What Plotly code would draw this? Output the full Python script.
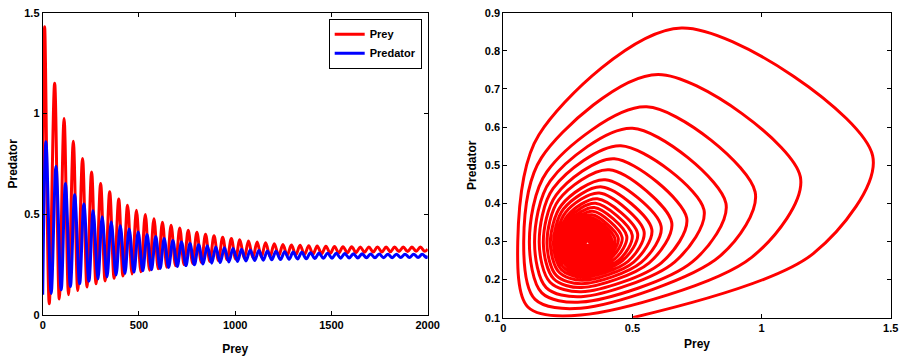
import numpy as np
import pandas as pd
import plotly.graph_objects as go

# ---- data (one entry per oscillation cycle) ----
t_start, prey_start, pred_start = 0, 0.5, 0.1
t_end, prey_end, pred_end = 2000, 0.327, 0.294

# prey peaks (time, prey value, predator value at that moment)
t_prey_max = [10, 62, 111, 159, 207, 254, 301, 348, 395, 441, 487, 533, 578, 622, 667, 712, 756, 801, 846, 890,
              935, 980, 1024, 1069, 1114, 1158, 1203, 1248, 1292, 1337, 1382, 1426, 1471, 1516, 1560, 1605, 1650,
              1694, 1739, 1784, 1828, 1873, 1918, 1962]
prey_max = [1.43, 1.15, 0.975, 0.862, 0.777, 0.71, 0.652, 0.611, 0.575, 0.545, 0.52, 0.499, 0.478, 0.46, 0.445,
            0.432, 0.42, 0.41, 0.401, 0.393, 0.386, 0.379, 0.373, 0.367, 0.362, 0.358, 0.354, 0.35, 0.347, 0.346,
            0.344, 0.342, 0.341, 0.34, 0.339, 0.339, 0.338, 0.338, 0.338, 0.337, 0.337, 0.337, 0.337, 0.337]
pred_at_prey_max = [0.525, 0.47, 0.43, 0.40, 0.383, 0.362, 0.35, 0.34, 0.332, 0.326, 0.321, 0.317, 0.314, 0.311,
                    0.309, 0.307, 0.305, 0.304, 0.303, 0.302, 0.301, 0.300, 0.299, 0.298, 0.298, 0.297, 0.297,
                    0.296, 0.296, 0.296, 0.295, 0.295, 0.295, 0.295, 0.294, 0.294, 0.294, 0.294, 0.294, 0.294,
                    0.294, 0.294, 0.294, 0.294]

# predator peaks
t_pred_max = [17, 69, 118, 166, 214, 262, 309, 356, 403, 449, 496, 542, 587, 631, 676, 721, 765, 810, 855, 899,
              944, 989, 1033, 1078, 1123, 1167, 1212, 1257, 1301, 1346, 1391, 1435, 1480, 1525, 1569, 1614, 1659,
              1703, 1748, 1793, 1837, 1882, 1927, 1971]
pred_max = [0.86, 0.738, 0.653, 0.597, 0.551, 0.517, 0.488, 0.462, 0.443, 0.427, 0.412, 0.40, 0.389, 0.379, 0.37,
            0.362, 0.355, 0.349, 0.343, 0.338, 0.334, 0.33, 0.326, 0.323, 0.32, 0.318, 0.316, 0.314, 0.312, 0.311,
            0.309, 0.308, 0.307, 0.306, 0.305, 0.304, 0.304, 0.303, 0.303, 0.302, 0.302, 0.302, 0.302, 0.301]
prey_at_pred_max = [0.69, 0.60, 0.555, 0.50, 0.455, 0.43, 0.41, 0.395, 0.382, 0.372, 0.364, 0.357, 0.352, 0.347,
                    0.343, 0.340, 0.338, 0.336, 0.334, 0.333, 0.332, 0.331, 0.330, 0.330, 0.329, 0.329, 0.329,
                    0.328, 0.328, 0.328, 0.328, 0.328, 0.328, 0.327, 0.327, 0.327, 0.327, 0.327, 0.327, 0.327,
                    0.327, 0.327, 0.327, 0.327]

# prey troughs
t_prey_min = [34, 86, 134, 182, 230, 277, 324, 371, 417, 464, 510, 555, 600, 645, 690, 734, 779, 824, 868, 913,
              958, 1002, 1047, 1092, 1136, 1181, 1226, 1270, 1315, 1360, 1404, 1449, 1494, 1538, 1583, 1628, 1672,
              1717, 1762, 1806, 1851, 1896, 1940, 1985]
prey_min = [0.056, 0.079, 0.101, 0.121, 0.139, 0.155, 0.169, 0.182, 0.194, 0.204, 0.214, 0.222, 0.23, 0.237, 0.244,
            0.25, 0.256, 0.261, 0.266, 0.27, 0.274, 0.278, 0.282, 0.285, 0.288, 0.291, 0.294, 0.296, 0.298, 0.30,
            0.302, 0.304, 0.306, 0.307, 0.309, 0.31, 0.311, 0.312, 0.313, 0.314, 0.315, 0.315, 0.316, 0.316]
pred_at_prey_min = [0.30, 0.30, 0.299, 0.298, 0.297, 0.296, 0.295, 0.295, 0.294, 0.294, 0.293, 0.293, 0.293,
                    0.292, 0.292, 0.292, 0.292, 0.292, 0.291, 0.291, 0.291, 0.291, 0.291, 0.291, 0.291, 0.291,
                    0.291, 0.291, 0.291, 0.291, 0.291, 0.291, 0.291, 0.291, 0.291, 0.291, 0.291, 0.291, 0.291,
                    0.291, 0.291, 0.291, 0.291, 0.291]

# predator troughs
t_pred_min = [44, 96, 144, 192, 240, 287, 334, 381, 427, 474, 520, 565, 610, 654, 699, 744, 788, 833, 878, 922,
              967, 1012, 1056, 1101, 1146, 1190, 1235, 1280, 1324, 1369, 1414, 1458, 1503, 1548, 1592, 1637, 1682,
              1726, 1771, 1816, 1860, 1905, 1950, 1994]
pred_min = [0.107, 0.125, 0.141, 0.155, 0.168, 0.179, 0.189, 0.198, 0.206, 0.213, 0.219, 0.225, 0.231, 0.236,
            0.241, 0.245, 0.249, 0.253, 0.257, 0.26, 0.263, 0.266, 0.268, 0.27, 0.272, 0.274, 0.275, 0.277, 0.278,
            0.279, 0.28, 0.281, 0.282, 0.282, 0.283, 0.283, 0.284, 0.284, 0.284, 0.284, 0.285, 0.285, 0.285, 0.285]
prey_at_pred_min = [0.30, 0.30, 0.30, 0.301, 0.302, 0.303, 0.304, 0.305, 0.306, 0.307, 0.308, 0.309, 0.31, 0.311,
                    0.312, 0.313, 0.314, 0.315, 0.316, 0.317, 0.318, 0.319, 0.32, 0.32, 0.321, 0.321, 0.322, 0.322,
                    0.323, 0.323, 0.323, 0.324, 0.324, 0.324, 0.324, 0.325, 0.325, 0.325, 0.325, 0.325, 0.325,
                    0.325, 0.325, 0.325]

# extra phase-plane points
# upper-left point of each loop (between predator peak and prey trough)
ul_prey = [0.138, 0.148, 0.169, 0.182, 0.193, 0.205, 0.215, 0.225, 0.233, 0.241, 0.249, 0.254, 0.26, 0.266, 0.271,
           0.274, 0.279, 0.282, 0.285, 0.288, 0.291, 0.293, 0.296, 0.298, 0.30, 0.302, 0.304, 0.305, 0.307, 0.308,
           0.31, 0.311, 0.312, 0.313, 0.314, 0.315, 0.316, 0.316, 0.317, 0.318, 0.319, 0.319, 0.319, 0.319]
ul_pred = [0.58, 0.52, 0.483, 0.459, 0.439, 0.422, 0.409, 0.395, 0.385, 0.376, 0.368, 0.361, 0.355, 0.349, 0.344,
           0.34, 0.335, 0.331, 0.327, 0.324, 0.321, 0.318, 0.316, 0.313, 0.311, 0.31, 0.309, 0.307, 0.306, 0.304,
           0.304, 0.303, 0.302, 0.302, 0.301, 0.30, 0.30, 0.299, 0.299, 0.299, 0.299, 0.299, 0.299, 0.298]
# lower-left corner of each loop (between prey trough and predator trough)
ll_prey = [0.095, 0.123, 0.149, 0.166, 0.181, 0.195, 0.205, 0.216, 0.225, 0.233, 0.241, 0.247, 0.253, 0.258, 0.264,
           0.268, 0.273, 0.277, 0.281, 0.284, 0.287, 0.29, 0.293, 0.295, 0.298, 0.30, 0.302, 0.304, 0.305, 0.307,
           0.308, 0.31, 0.311, 0.312, 0.314, 0.314, 0.315, 0.316, 0.316, 0.317, 0.318, 0.318, 0.319, 0.319]
ll_pred = [0.128, 0.148, 0.165, 0.179, 0.193, 0.202, 0.211, 0.219, 0.226, 0.232, 0.238, 0.243, 0.248, 0.252, 0.255,
           0.259, 0.261, 0.264, 0.267, 0.269, 0.271, 0.273, 0.275, 0.276, 0.278, 0.279, 0.28, 0.281, 0.282, 0.283,
           0.283, 0.284, 0.285, 0.285, 0.285, 0.285, 0.286, 0.286, 0.286, 0.286, 0.287, 0.287, 0.287, 0.287]
# lower-right point on the way up to each prey peak
lr_prey = [1.20, 0.963, 0.84, 0.733, 0.663, 0.612, 0.565, 0.534, 0.505, 0.483, 0.462, 0.447, 0.432, 0.418, 0.407,
           0.398, 0.39, 0.382, 0.376, 0.371, 0.366, 0.361, 0.357, 0.353, 0.35, 0.347, 0.344, 0.342, 0.34, 0.339,
           0.338, 0.336, 0.336, 0.335, 0.335, 0.335, 0.334, 0.334, 0.334, 0.334, 0.334, 0.334, 0.334, 0.334]
lr_pred = [0.268, 0.259, 0.262, 0.247, 0.246, 0.244, 0.244, 0.245, 0.246, 0.248, 0.25, 0.251, 0.254, 0.257, 0.259,
           0.261, 0.264, 0.266, 0.268, 0.271, 0.272, 0.274, 0.276, 0.277, 0.278, 0.28, 0.281, 0.281, 0.283, 0.283,
           0.284, 0.285, 0.285, 0.286, 0.286, 0.286, 0.286, 0.287, 0.287, 0.287, 0.287, 0.287, 0.287, 0.287]

x_ticks_time = [0, 500, 1000, 1500, 2000]

# ---- assemble series ----
prey_ts = pd.concat([
    pd.DataFrame({"t": [t_start], "v": [prey_start]}),
    pd.DataFrame({"t": t_prey_max, "v": prey_max}),
    pd.DataFrame({"t": t_prey_min, "v": prey_min}),
    pd.DataFrame({"t": [t_end], "v": [prey_end]}),
]).sort_values("t")
pred_ts = pd.concat([
    pd.DataFrame({"t": [t_start], "v": [pred_start]}),
    pd.DataFrame({"t": t_pred_max, "v": pred_max}),
    pd.DataFrame({"t": t_pred_min, "v": pred_min}),
    pd.DataFrame({"t": [t_end], "v": [pred_end]}),
]).sort_values("t")

# phase plane: per cycle the order is lower-right, prey peak, predator peak, upper-left,
# prey trough, lower-left, predator trough
px, py = [prey_start], [pred_start]
for k in range(len(prey_max)):
    px += [lr_prey[k], prey_max[k], prey_at_pred_max[k], ul_prey[k], prey_min[k], ll_prey[k], prey_at_pred_min[k]]
    py += [lr_pred[k], pred_at_prey_max[k], pred_max[k], ul_pred[k], pred_at_prey_min[k], ll_pred[k], pred_min[k]]
px.append(prey_end)
py.append(pred_end)

RED = "#ff0000"
BLUE = "#0000ff"
FONT = "Liberation Sans, Arial, Helvetica, sans-serif"

fig = go.Figure()
fig.add_trace(go.Scatter(x=prey_ts["t"], y=prey_ts["v"], mode="lines", name="Prey",
                         line=dict(color=RED, width=3, shape="spline", smoothing=1.0),
                         xaxis="x", yaxis="y"))
fig.add_trace(go.Scatter(x=pred_ts["t"], y=pred_ts["v"], mode="lines", name="Predator",
                         line=dict(color=BLUE, width=3, shape="spline", smoothing=1.0),
                         xaxis="x", yaxis="y"))
fig.add_trace(go.Scatter(x=px, y=py, mode="lines", showlegend=False,
                         line=dict(color=RED, width=3, shape="spline", smoothing=0.9),
                         xaxis="x2", yaxis="y2"))

W, H = 903, 358
tickfont = dict(family=FONT, size=11, color="black", weight="bold")
titlefont = dict(family=FONT, size=12, color="black", weight="bold")
axis_common = dict(showline=True, linecolor="black", linewidth=1, mirror="ticks", ticks="inside",
                   ticklen=4, tickcolor="black", showgrid=False, zeroline=False, tickfont=tickfont,
                   automargin=False)

fig.update_layout(
    width=W, height=H,
    margin=dict(l=0, r=0, t=0, b=0, autoexpand=False),
    paper_bgcolor="white", plot_bgcolor="white",
    showlegend=True,
    legend=dict(x=421.7 / W, y=1 - 18.7 / H, xanchor="right", yanchor="top",
                bgcolor="white", bordercolor="black", borderwidth=1,
                font=dict(family=FONT, size=11, color="black", weight="bold"),
                itemwidth=30, tracegroupgap=0),
    xaxis=dict(domain=[42.7 / W, 427.7 / W], range=[0, 2000], tickvals=x_ticks_time,
               title=dict(text="Prey", font=titlefont, standoff=14), anchor="y", **axis_common),
    yaxis=dict(domain=[1 - 315 / H, 1 - 12.7 / H], range=[0, 1.5], dtick=0.5,
               title=dict(text="Predator", font=titlefont, standoff=3), anchor="x", **axis_common),
    xaxis2=dict(domain=[503.3 / W, 890.7 / W], range=[0, 1.5], dtick=0.5,
                title=dict(text="Prey", font=titlefont, standoff=6), anchor="y2", **axis_common),
    yaxis2=dict(domain=[1 - 317.7 / H, 1 - 12.7 / H], range=[0.1, 0.9], dtick=0.1,
                title=dict(text="Predator", font=titlefont, standoff=5), anchor="x2", **axis_common),
)

fig.write_html("out.html", config={"displayModeBar": False},
               post_script="document.body.style.margin='0px';document.body.style.overflow='hidden';")
